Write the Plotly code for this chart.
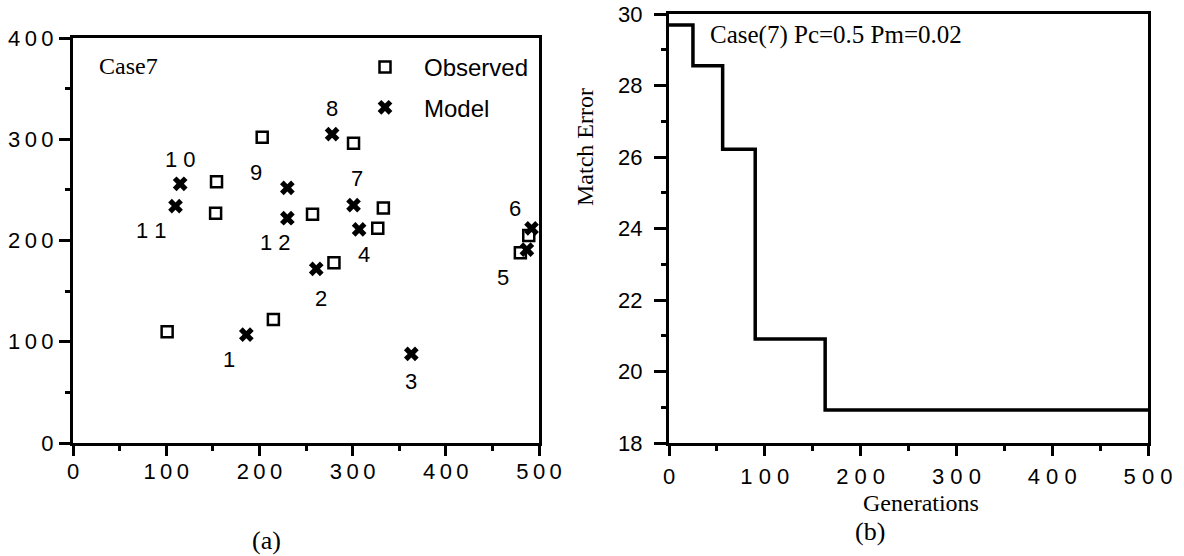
import plotly.graph_objects as go

# ---- data: panel (a) ----
obs_x = [101, 215, 280, 327, 480, 489, 333, 301, 203, 154, 153, 257]
obs_y = [110, 122, 178, 212, 188, 205, 232, 296, 302, 258, 227, 226]

model_labels = ["1", "2", "3", "4", "5", "6", "7", "8", "9", "1 0", "1 1", "1 2"]
model_x = [186, 261, 363, 307, 487, 492, 301, 278, 230, 115, 110, 230]
model_y = [107, 172, 88, 211, 191, 212, 235, 305, 252, 256, 234, 222]

# ---- data: panel (b) ----
gen_x = [0, 25, 56, 90, 163, 500]
err_y = [29.69, 28.55, 26.22, 20.91, 18.92, 18.92]

T = "\u2009"
tick_a_vals = [0, 100, 200, 300, 400, 500]
tick_a_text = ["0", T.join("100"), T.join("200"), T.join("300"), T.join("400"), T.join("500")]
tick_ay_vals = [0, 100, 200, 300, 400]
tick_ay_text = ["0", T.join("100"), T.join("200"), T.join("300"), T.join("400")]
tick_b_vals = [0, 100, 200, 300, 400, 500]
tick_b_text = ["0", "1 0 0", "2 0 0", "3 0 0", "4 0 0", "5 0 0"]
tick_by_vals = [18, 20, 22, 24, 26, 28, 30]

# label offsets in pixels (dx, dy_down) for the model labels
label_shift = [(-17, 25), (5, 30), (0, 28), (5, 25), (-24, 28), (-17, -20),
               (3, -27), (0, -26), (-31, -15), (0, -24), (-24, 24), (-12, 24)]

W, H = 1184, 556
SANS = "Liberation Sans, Arial, sans-serif"
SERIF = "Liberation Serif, Times New Roman, serif"

def px(v):
    return v / W

def py(v):
    return 1 - v / H

fig = go.Figure()
fig.add_trace(go.Scatter(
    x=obs_x, y=obs_y, mode="markers", name="Observed",
    marker=dict(symbol="square-open", size=11, color="black", line=dict(width=2.5, color="black")),
    xaxis="x", yaxis="y", legendgroup="a"))
fig.add_trace(go.Scatter(
    x=model_x, y=model_y, mode="markers", name="Model",
    marker=dict(symbol="x", size=13, color="black", line=dict(width=0)),
    xaxis="x", yaxis="y", legendgroup="b"))
fig.add_trace(go.Scatter(
    x=gen_x, y=err_y, mode="lines", line=dict(shape="hv", color="black", width=3.5),
    showlegend=False, xaxis="x2", yaxis="y2"))

ann = []
for lab, x, y, (dx, dy) in zip(model_labels, model_x, model_y, label_shift):
    ann.append(dict(x=x, y=y, xref="x", yref="y", text=lab, showarrow=False,
                    xshift=dx, yshift=-dy, font=dict(family=SANS, size=22, color="black")))

def txt(x, y, text, size=24, xanchor="center", textangle=0, family=SERIF):
    return dict(x=px(x), y=py(y), xref="paper", yref="paper", text=text,
                showarrow=False, xanchor=xanchor, yanchor="middle", textangle=textangle,
                font=dict(family=family, size=size, color="black"))

ann += [
    txt(97, 66, "Case7", xanchor="left"),
    txt(708, 35, "Case(7) Pc=0.5 Pm=0.02", size=25, xanchor="left"),
    txt(585, 147, "Match Error", textangle=-90),
    txt(921, 503, "Generations"),
    txt(266, 540, "(a)", size=26),
    txt(870, 531, "(b)", size=26),
]

axis_common = dict(showline=True, linewidth=3, linecolor="black", mirror=True,
                   showgrid=False, zeroline=False, ticks="outside", tickwidth=2.5,
                   tickcolor="black", automargin=False,
                   tickfont=dict(family=SANS, size=22, color="black"))
minor_common = dict(ticks="outside", ticklen=5, tickwidth=2.5, tickcolor="black")

fig.update_layout(
    width=W, height=H, margin=dict(l=0, r=0, t=0, b=0, autoexpand=False),
    paper_bgcolor="white", plot_bgcolor="white",
    showlegend=True,
    legend=dict(x=px(346), y=py(45), xanchor="left", yanchor="top", itemwidth=68,
                bgcolor="rgba(0,0,0,0)", font=dict(family=SANS, size=24, color="black"),
                traceorder="grouped", tracegroupgap=6),
    xaxis=dict(domain=[px(73), px(539)], range=[0, 500], anchor="y",
               tickvals=tick_a_vals, ticktext=tick_a_text, ticklen=10, ticklabelstandoff=-3,
               minor=dict(dtick=50, **minor_common), **axis_common),
    yaxis=dict(domain=[py(443), py(38)], range=[0, 400], anchor="x",
               tickvals=tick_ay_vals, ticktext=tick_ay_text, ticklen=11, ticklabelstandoff=1,
               minor=dict(dtick=50, **minor_common), **axis_common),
    xaxis2=dict(domain=[px(669), px(1148)], range=[0, 500], anchor="y2",
                tickvals=tick_b_vals, ticktext=tick_b_text, ticklen=10, ticklabelstandoff=2,
                minor=dict(dtick=50, **minor_common), **axis_common),
    yaxis2=dict(domain=[py(443), py(14)], range=[18, 30], anchor="x2",
                tickvals=tick_by_vals, ticklen=12, ticklabelstandoff=7,
                minor=dict(dtick=1, **minor_common), **axis_common),
    annotations=ann,
)

fig.write_html("out.html", config={"displayModeBar": False},
               post_script="document.body.style.margin='0';")
